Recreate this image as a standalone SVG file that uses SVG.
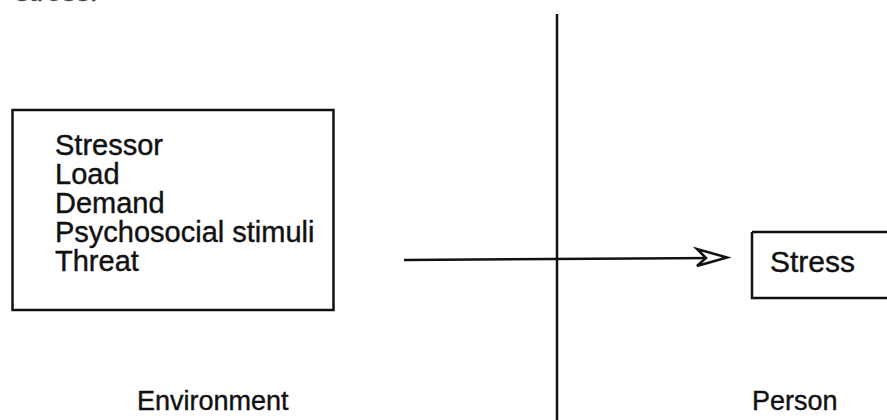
<svg xmlns="http://www.w3.org/2000/svg" width="887" height="420" viewBox="0 0 887 420">
<style>
.t{font-family:"Liberation Sans",Arial,sans-serif;fill:#111;stroke:#111;stroke-width:0.4;}
.box{fill:none;stroke:#111;stroke-width:2.5;}
.ln{stroke:#111;stroke-width:2.5;fill:none;}
</style>
<rect width="887" height="420" fill="#fff"/>
<text class="t" x="15" y="1" font-size="28" fill-opacity="0.7">stress.</text>
<g id="divider">
<line class="ln" x1="557" y1="14" x2="557" y2="420"/>
</g>
<g id="environment-box">
<rect class="box" x="12.5" y="110" width="321" height="200"/>
<text class="t" x="55" y="155" font-size="29">Stressor</text>
<text class="t" x="55" y="184" font-size="29">Load</text>
<text class="t" x="55" y="213" font-size="29">Demand</text>
<text class="t" x="55" y="242" font-size="29">Psychosocial stimuli</text>
<text class="t" x="55" y="271" font-size="29">Threat</text>
</g>
<g id="stress-box">
<path class="box" d="M752,232 V298 H890"/>
<line class="ln" x1="752" y1="232" x2="890" y2="232"/>
<text class="t" x="770" y="272" font-size="30">Stress</text>
</g>
<g id="connectors">
<line class="ln" x1="404" y1="260" x2="718" y2="258"/>
<path d="M727,257.5 L697,249 L706,258 L697,266 Z" fill="#fff" stroke="#111" stroke-width="2.5" stroke-linejoin="miter"/>
</g>
<g id="labels">
<text class="t" x="137" y="410" font-size="27">Environment</text>
<text class="t" x="752" y="410" font-size="27">Person</text>
</g>
</svg>
